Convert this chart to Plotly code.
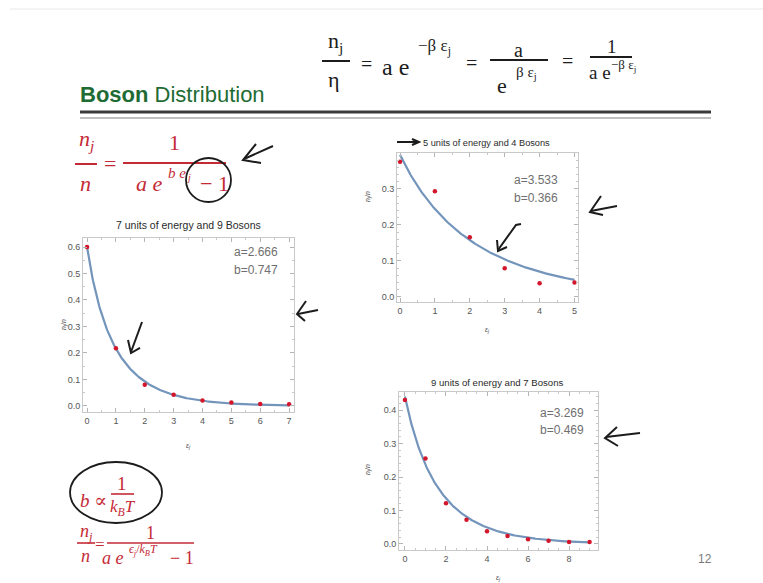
import numpy as np
import plotly.graph_objects as go

W, H = 763, 583

# Occupation fraction n_j/n for each energy level, with fitted a, b
levels_a = [0, 1, 2, 3, 4, 5, 6, 7]
frac_a = [0.600, 0.218, 0.080, 0.042, 0.020, 0.013, 0.007, 0.006]
fit_a = (2.666, 0.747)
title_a = "7 units of energy and 9 Bosons"

levels_b = [0, 1, 2, 3, 4, 5]
frac_b = [0.376, 0.294, 0.166, 0.080, 0.038, 0.040]
fit_b = (3.533, 0.366)
title_b = "5 units of energy and 4 Bosons"

levels_c = [0, 1, 2, 3, 4, 5, 6, 7, 8, 9]
frac_c = [0.430, 0.255, 0.122, 0.072, 0.038, 0.024, 0.014, 0.010, 0.006, 0.006]
fit_c = (3.269, 0.469)
title_c = "9 units of energy and 7 Bosons"

ticks_x_a = [0, 1, 2, 3, 4, 5, 6, 7]
ticks_y_a = [0.0, 0.1, 0.2, 0.3, 0.4, 0.5, 0.6]
ticks_x_b = [0, 1, 2, 3, 4, 5]
ticks_y_b = [0.0, 0.1, 0.2, 0.3]
ticks_x_c = [0, 2, 4, 6, 8]
ticks_y_c = [0.0, 0.1, 0.2, 0.3, 0.4]


def X(px):
    return px / W


def Y(py):
    return 1 - py / H


NARROW = "Liberation Sans Narrow, Arial Narrow, Liberation Sans, sans-serif"
SERIF = "Liberation Serif, DejaVu Serif, serif"
RED = "#c42a36"
INK = "#1c1c1c"
CURVE = "#7394bb"
DOT = "#d3162b"

panels = [
    dict(lv=levels_a, fr=frac_a, fit=fit_a, title=title_a, tsize=10.5,
         px=(83, 294), py=(238, 412), xr=[-0.14, 7.17], yr=[-0.023, 0.634],
         tx=ticks_x_a, ty=ticks_y_a, tpos=(188, 225),
         ab=(279, 252, 270), ylab=(64, 325), xlab=(188, 446)),
    dict(lv=levels_b, fr=frac_b, fit=fit_b, title=title_b, tsize=9.2,
         px=(397, 578), py=(153, 302), xr=[-0.086, 5.1], yr=[-0.014, 0.40],
         tx=ticks_x_b, ty=ticks_y_b, tpos=(486, 143),
         ab=(559, 180, 198), ylab=(368, 197), xlab=(487, 330)),
    dict(lv=levels_c, fr=frac_c, fit=fit_c, title=title_c, tsize=9.6,
         px=(399, 598), py=(392, 550), xr=[-0.29, 9.41], yr=[-0.018, 0.454],
         tx=ticks_x_c, ty=ticks_y_c, tpos=(497, 382),
         ab=(585, 413, 430), ylab=(368, 470), xlab=(498, 578)),
]

fig = go.Figure()
annotations = []
shapes = []


def note(text, x, y, size=12, color="#333", family=NARROW, xanchor="center",
         yanchor="middle", angle=0):
    annotations.append(dict(text=text, x=X(x), y=Y(y), xref="paper", yref="paper",
                            showarrow=False, xanchor=xanchor, yanchor=yanchor,
                            textangle=angle, borderpad=0,
                            font=dict(size=size, color=color, family=family)))


def stroke(pts, color=INK, width=2):
    d = "M " + " L ".join(f"{X(a):.5f},{Y(b):.5f}" for a, b in pts)
    shapes.append(dict(type="path", path=d, xref="paper", yref="paper",
                       line=dict(color=color, width=width)))


def hline(x0, x1, y, color, width):
    shapes.append(dict(type="line", xref="paper", yref="paper",
                       x0=X(x0), x1=X(x1), y0=Y(y), y1=Y(y),
                       line=dict(color=color, width=width)))


def oval(x0, y0, x1, y1, color=INK, width=1.8):
    shapes.append(dict(type="circle", xref="paper", yref="paper",
                       x0=X(x0), x1=X(x1), y0=Y(y1), y1=Y(y0),
                       line=dict(color=color, width=width)))


layout_axes = {}
for i, p in enumerate(panels, start=1):
    xa = "x" if i == 1 else f"x{i}"
    ya = "y" if i == 1 else f"y{i}"
    a, b = p["fit"]
    xs = np.linspace(0, max(p["lv"]), 300)
    fig.add_trace(go.Scatter(x=xs, y=1.0 / (a * np.exp(b * xs) - 1.0), mode="lines",
                             line=dict(color=CURVE, width=2.2), xaxis=xa, yaxis=ya,
                             hoverinfo="skip", showlegend=False))
    fig.add_trace(go.Scatter(x=p["lv"], y=p["fr"], mode="markers",
                             marker=dict(color=DOT, size=4.5), xaxis=xa, yaxis=ya,
                             showlegend=False))
    common = dict(showgrid=False, zeroline=False, showline=True, mirror="ticks",
                  linecolor="#c9c9c9", linewidth=1, ticks="inside", ticklen=4,
                  tickcolor="#b5b5b5", tickfont=dict(size=9, color="#555", family=NARROW),
                  minor=dict(ticks="inside", ticklen=2, tickcolor="#c8c8c8", nticks=5))
    layout_axes["xaxis" if i == 1 else f"xaxis{i}"] = dict(
        common, domain=[X(p["px"][0]), X(p["px"][1])], range=p["xr"],
        tickvals=p["tx"], anchor=ya)
    layout_axes["yaxis" if i == 1 else f"yaxis{i}"] = dict(
        common, domain=[Y(p["py"][1]), Y(p["py"][0])], range=p["yr"],
        tickvals=p["ty"], tickformat=".1f", anchor=xa)
    note(p["title"], *p["tpos"], size=p["tsize"], color="#2a2a2a")
    note(f"a={a}", p["ab"][0], p["ab"][1], size=12, color="#6f6f6f", xanchor="right")
    note(f"b={b}", p["ab"][0], p["ab"][2], size=12, color="#6f6f6f", xanchor="right")
    note("<i>n<sub>j</sub></i>/<i>n</i>", *p["ylab"], size=7, color="#444", angle=-90)
    note("<i>ε<sub>j</sub></i>", *p["xlab"], size=7, color="#444")

# slide header
note("<b>Boson</b> Distribution", 79, 94, size=22, color="#1f6b34", xanchor="left")
hline(80, 711, 112, "#3a3a3a", 3.2)
hline(80, 711, 118, "#a8a8a8", 1.5)
hline(10, 763, 9, "#e8e8e8", 1)

# red formula, upper left
note("<i>n<sub>j</sub></i>", 86, 140, size=22, color=RED, family=SERIF)
hline(75, 97, 164, RED, 2)
note("<i>n</i>", 85, 183, size=22, color=RED, family=SERIF)
note("=", 110, 163, size=22, color=RED, family=SERIF)
note("1", 174, 143, size=22, color=RED, family=SERIF)
hline(123, 226, 163, RED, 2)
note("<i>a e</i>", 149, 184, size=22, color=RED, family=SERIF)
note("<i>b e</i>", 177, 173, size=15, color=RED, family=SERIF)
note("<i>j</i>", 188, 177, size=10, color=RED, family=SERIF)
note("− 1", 214, 184, size=22, color=RED, family=SERIF)

# red formulas, lower left
note("<i>b</i> ∝", 93, 500, size=19, color=RED, family=SERIF)
note("1", 122, 483, size=19, color=RED, family=SERIF)
hline(111, 134, 494, RED, 1.6)
note("<i>k<sub>B</sub>T</i>", 123, 508, size=17, color=RED, family=SERIF)
note("<i>n<sub>j</sub></i>", 86, 532, size=18, color=RED, family=SERIF)
hline(77, 95, 543, RED, 1.6)
note("<i>n</i>", 85, 556, size=18, color=RED, family=SERIF)
note("=", 100, 544, size=17, color=RED, family=SERIF)
note("1", 150, 533, size=18, color=RED, family=SERIF)
hline(107, 194, 543, RED, 1.6)
note("<i>a e</i>", 113, 558, size=18, color=RED, family=SERIF)
note("<i>ϵ<sub>j</sub></i>/<i>k<sub>B</sub>T</i>", 143, 550, size=12, color=RED, family=SERIF)
note("− 1", 182, 558, size=18, color=RED, family=SERIF)

# handwritten relation at the top
note("n<sub>j</sub>", 335, 42, size=22, color=INK, family=SERIF)
hline(322, 350, 61, INK, 2)
note("η", 334, 79, size=22, color=INK, family=SERIF)
note("=", 366, 64, size=20, color=INK, family=SERIF)
note("a e", 395, 67, size=24, color=INK, family=SERIF)
note("−β ε<sub>j</sub>", 434, 47, size=17, color=INK, family=SERIF)
note("=", 471, 63, size=20, color=INK, family=SERIF)
note("a", 518, 50, size=20, color=INK, family=SERIF)
hline(490, 548, 60, INK, 2)
note("e", 502, 85, size=22, color=INK, family=SERIF)
note("β ε<sub>j</sub>", 526, 73, size=15, color=INK, family=SERIF)
note("=", 567, 61, size=20, color=INK, family=SERIF)
note("1", 612, 46, size=19, color=INK, family=SERIF)
hline(590, 632, 57, INK, 2)
note("a e", 600, 73, size=19, color=INK, family=SERIF)
note("−β ε<sub>j</sub>", 623, 65, size=13, color=INK, family=SERIF)

# pen marks
oval(186, 158, 231, 202)
stroke([(273, 146), (244, 159)])
stroke([(256, 144), (243, 160), (261, 163)])
stroke([(142, 322), (131, 352)])
stroke([(128, 340), (131, 353), (140, 348)])
stroke([(298, 314), (318, 310)])
stroke([(306, 301), (297, 314), (305, 321)])
stroke([(397, 142), (418, 142)])
stroke([(412, 139), (419, 142), (412, 145)])
stroke([(521, 224), (516, 225), (498, 250)])
stroke([(497, 240), (498, 251), (507, 247)])
stroke([(591, 211), (617, 206)])
stroke([(601, 196), (590, 212), (603, 215)])
stroke([(606, 437), (640, 433)])
stroke([(617, 427), (605, 438), (618, 446)])
oval(70, 462, 162, 523)

note("12", 705, 559, size=12, color="#7a7a7a")

fig.update_layout(width=W, height=H, margin=dict(l=0, r=0, t=0, b=0),
                  paper_bgcolor="white", plot_bgcolor="white",
                  annotations=annotations, shapes=shapes, **layout_axes)
fig.write_html("out.html")
